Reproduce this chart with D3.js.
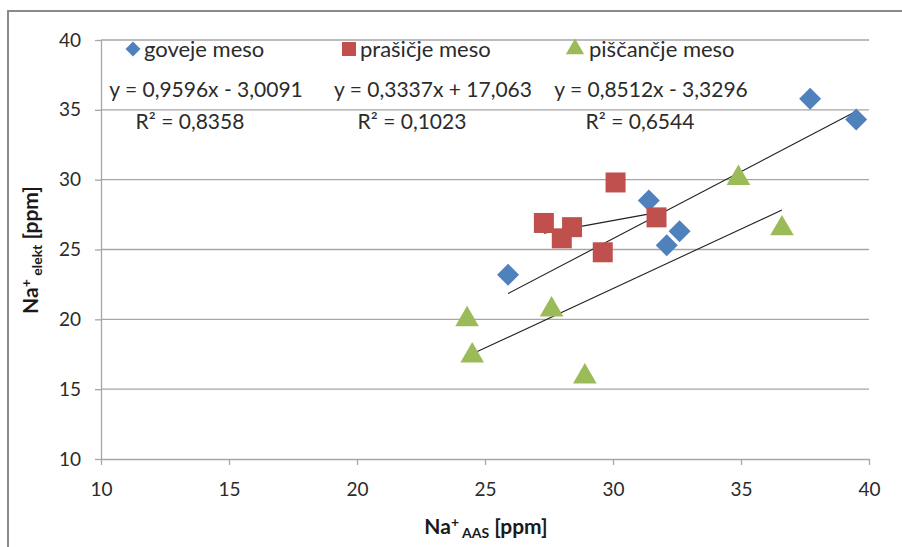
<!DOCTYPE html>
<html>
<head>
<meta charset="utf-8">
<script src="https://cdn.jsdelivr.net/npm/d3@7/dist/d3.min.js"></script>
<style>
  body { margin: 0; background: #fff; }
  svg text { font-family: Lato, "Open Sans", sans-serif; }
</style>
</head>
<body>
<svg id="chart" width="902" height="547"></svg>
<script>
// series values
var govejeX = [25.9, 31.4, 32.1, 32.6, 37.7, 39.5];
var govejeY = [23.2, 28.5, 25.3, 26.3, 35.8, 34.3];
var prasicjeX = [27.3, 28.4, 28.0, 29.6, 30.1, 31.7];
var prasicjeY = [26.9, 26.6, 25.8, 24.8, 29.8, 27.3];
var piscX = [24.3, 24.5, 27.6, 28.9, 34.9, 36.6];
var piscY = [20.0, 17.4, 20.7, 15.9, 30.1, 26.5];

var seriesNames = ['goveje meso', 'prašičje meso', 'piščančje meso'];
var slopes = [0.9596, 0.3337, 0.8512];
var intercepts = [-3.0091, 17.063, -3.3296];
var eqLabels = ['y = 0,9596x - 3,0091', 'y = 0,3337x + 17,063', 'y = 0,8512x - 3,3296'];
var r2Labels = ['R² = 0,8358', 'R² = 0,1023', 'R² = 0,6544'];
var xTicks = [10, 15, 20, 25, 30, 35, 40];
var yTicks = [10, 15, 20, 25, 30, 35, 40];

var colors = ['#4F81BD', '#C0504D', '#9BBB59'];
var shapes = ['diamond', 'square', 'triangle'];

var series = [
  {x: govejeX, y: govejeY},
  {x: prasicjeX, y: prasicjeY},
  {x: piscX, y: piscY}
].map(function(s, i) {
  return {
    name: seriesNames[i], color: colors[i], shape: shapes[i],
    slope: slopes[i], intercept: intercepts[i],
    points: s.x.map(function(v, j) { return {x: v, y: s.y[j]}; })
  };
});

var svg = d3.select('#chart');

var margin = {left: 101, top: 40, right: 869, bottom: 459};

var x = d3.scaleLinear().domain([10, 40]).range([margin.left, margin.right]);
var y = d3.scaleLinear().domain([10, 40]).range([margin.bottom, margin.top]);

// outer frame (cut off right and bottom)
svg.append('rect')
  .attr('x', 8).attr('y', 11)
  .attr('width', 1000).attr('height', 600)
  .attr('fill', 'none')
  .attr('stroke', '#8a8a8a')
  .attr('stroke-width', 2);

// gridlines
svg.append('g')
  .selectAll('line')
  .data(yTicks.slice(1))
  .enter()
    .append('line')
    .attr('x1', margin.left).attr('x2', margin.right)
    .attr('y1', function(d) { return y(d); })
    .attr('y2', function(d) { return y(d); })
    .attr('stroke', '#a6a6a6')
    .attr('stroke-width', 1.3);

function styleAxis(g) {
  g.select('.domain').attr('stroke', '#a6a6a6').attr('stroke-width', 1.3);
  g.selectAll('.tick line').attr('stroke', '#a6a6a6').attr('stroke-width', 1.3);
  g.selectAll('.tick text')
    .attr('fill', '#2b2b2b')
    .attr('font-size', 19);
}

var xAxis = svg.append('g')
  .attr('transform', 'translate(0,' + margin.bottom + ')')
  .call(d3.axisBottom(x).tickValues(xTicks).tickSize(6).tickPadding(18).tickSizeOuter(0))
  .call(styleAxis);

var yAxis = svg.append('g')
  .attr('transform', 'translate(' + margin.left + ',0)')
  .call(d3.axisLeft(y).tickValues(yTicks).tickSize(6).tickPadding(14).tickSizeOuter(0))
  .call(styleAxis);

// axis titles
var xt = svg.append('text')
  .attr('x', 486).attr('y', 534)
  .attr('text-anchor', 'middle')
  .attr('font-weight', 'bold')
  .attr('font-size', 21)
  .attr('fill', '#1a1a1a');
xt.append('tspan').text('Na');
xt.append('tspan').attr('dy', -7).attr('font-size', 14).text('+');
xt.append('tspan').attr('dy', 11).attr('font-size', 14).text(' AAS');
xt.append('tspan').attr('dy', -4).text(' [ppm]');

var yt = svg.append('text')
  .attr('transform', 'translate(38,250) rotate(-90)')
  .attr('text-anchor', 'middle')
  .attr('font-weight', 'bold')
  .attr('font-size', 21)
  .attr('fill', '#1a1a1a');
yt.append('tspan').text('Na');
yt.append('tspan').attr('dy', -7).attr('font-size', 14).text('+');
yt.append('tspan').attr('dy', 11).attr('font-size', 14).text(' elekt');
yt.append('tspan').attr('dy', -4).text(' [ppm]');

function markerPath(shape, size) {
  if (shape == 'diamond') {
    return d3.symbol().type(d3.symbolSquare).size(size * size * 0.5)();
  } else if (shape == 'square') {
    return d3.symbol().type(d3.symbolSquare).size(size * size)();
  }
  return d3.symbol().type(d3.symbolTriangle).size(size * size * 0.5)();
}

// trendlines
series.forEach(function(s) {
  var xs = s.points.map(function(p) { return p.x; });
  var x0 = d3.min(xs), x1 = d3.max(xs);
  svg.append('line')
    .attr('x1', x(x0)).attr('y1', y(s.slope * x0 + s.intercept))
    .attr('x2', x(x1)).attr('y2', y(s.slope * x1 + s.intercept))
    .attr('stroke', '#222')
    .attr('stroke-width', 1.1);
});

// points
series.forEach(function(s) {
  svg.append('g')
    .selectAll('path')
    .data(s.points)
    .enter()
      .append('path')
      .attr('d', markerPath(s.shape, s.shape == 'square' ? 20 : 22))
      .attr('fill', s.color)
      .attr('transform', function(d) {
        return 'translate(' + x(d.x) + ',' + y(d.y) + ')' + (s.shape == 'diamond' ? ' rotate(45)' : '');
      });
});

// legend
var legendX = [133, 349, 575];
var legend = svg.append('g')
  .selectAll('g')
  .data(series)
  .enter()
    .append('g')
    .attr('transform', function(d, i) { return 'translate(' + legendX[i] + ',49)'; });

legend.append('path')
  .attr('d', function(d) { return markerPath(d.shape, d.shape == 'diamond' ? 15 : (d.shape == 'square' ? 14 : 17)); })
  .attr('fill', function(d) { return d.color; })
  .attr('transform', function(d) { return d.shape == 'diamond' ? 'rotate(45)' : ''; });

legend.append('text')
  .attr('x', function(d) { return d.shape == 'triangle' ? 14 : 11; })
  .attr('y', 8)
  .attr('font-size', 22)
  .attr('fill', '#2b2b2b')
  .text(function(d) { return d.name; });

// equation labels
var eqX = [206, 433, 651];
var r2X = [190, 412, 640];
svg.append('g')
  .selectAll('text')
  .data(eqLabels)
  .enter()
    .append('text')
    .attr('x', function(d, i) { return eqX[i]; })
    .attr('y', 97)
    .attr('text-anchor', 'middle')
    .attr('font-size', 21)
    .attr('fill', '#2b2b2b')
    .text(function(d) { return d; });

svg.append('g')
  .selectAll('text')
  .data(r2Labels)
  .enter()
    .append('text')
    .attr('x', function(d, i) { return r2X[i]; })
    .attr('y', 129)
    .attr('text-anchor', 'middle')
    .attr('font-size', 21)
    .attr('fill', '#2b2b2b')
    .text(function(d) { return d; });
</script>
</body>
</html>
